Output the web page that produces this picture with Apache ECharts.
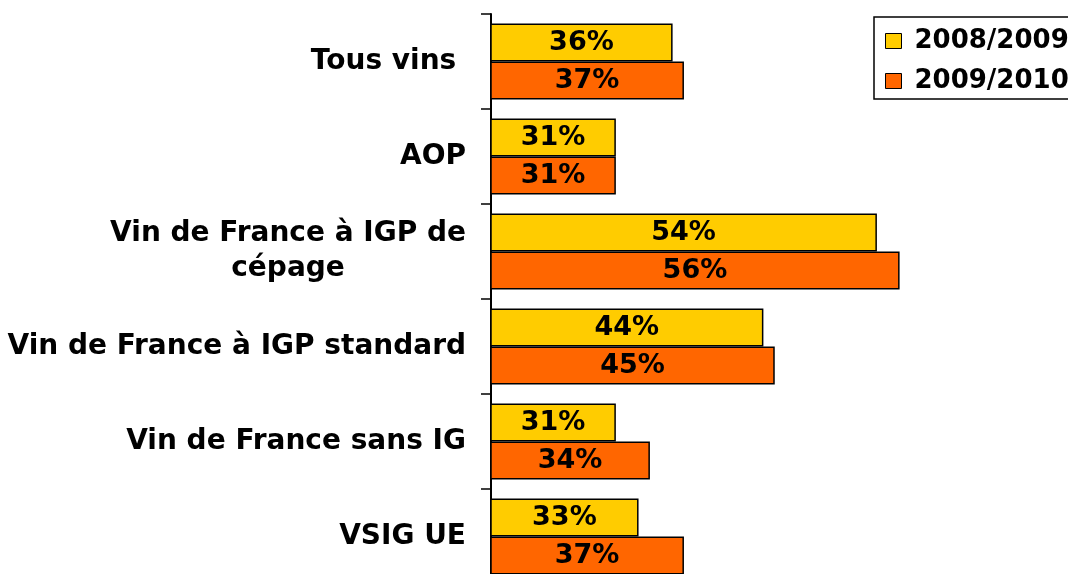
<!DOCTYPE html>
<html>
<head>
<meta charset="utf-8">
<script src="https://cdn.jsdelivr.net/npm/echarts@6/dist/echarts.min.js"></script>
<style>
html, body { margin: 0; padding: 0; background: #ffffff; }
#chartBox { width: 1068px; height: 574px; overflow: hidden; }
</style>
</head>
<body>
<div id="chartBox"></div>
<script>
// categories, top to bottom
let categories = ['Tous vins ', 'AOP', 'Vin de France à IGP de\ncépage', 'Vin de France à IGP standard', 'Vin de France sans IG', 'VSIG UE'];
let seriesNames = ['2008/2009', '2009/2010'];
let values0809 = [36, 31, 54, 44, 31, 33];
let values0910 = [37, 31, 56, 45, 34, 37];

let fontName = 'DejaVu Sans';

let chartBox = echarts.init(document.getElementById('chartBox'));

function barSeries(name, data, color) {
    return {
        type: 'bar',
        name: name,
        data: data,
        barGap: 0,
        barCategoryGap: '20%',
        itemStyle: {color: color, borderColor: '#000000', borderWidth: 1.5},
        label: {
            show: true, position: 'inside', formatter: '{c}%',
            color: '#000000', fontFamily: fontName, fontWeight: 'bold', fontSize: 27
        }
    };
}

let chartBoxOption = {
    animation: false,
    backgroundColor: '#ffffff',
    // plot runs past the bottom edge of the picture, as in the original
    grid: {left: 491, width: 567.5, top: 14, height: 570, containLabel: false, outerBoundsMode: 'none'},
    legend: {
        orient: 'vertical', left: 874, top: 17,
        padding: [11, 60, 5, 11],
        itemGap: 14, itemWidth: 16, itemHeight: 15,
        borderColor: '#000000', borderWidth: 1.5,
        icon: 'rect',
        itemStyle: {borderColor: '#000000', borderWidth: 1},
        textStyle: {color: '#000000', fontFamily: fontName, fontWeight: 'bold', fontSize: 26, lineHeight: 26, padding: [0, 0, 0, 8]},
        data: seriesNames
    },
    xAxis: {
        type: 'value', min: 20, max: 70,
        show: false,
        splitLine: {show: false}
    },
    yAxis: {
        type: 'category', inverse: true,
        data: categories,
        axisLine: {show: true, lineStyle: {color: '#000000', width: 2}},
        axisTick: {show: true, length: 10, lineStyle: {color: '#000000', width: 1.5}},
        axisLabel: {
            margin: 25, color: '#000000', fontFamily: fontName, fontWeight: 'bold', fontSize: 28,
            formatter: function (v) {
                return v.split('\n').map(function (s) { return '{c|' + s + '}'; }).join('\n');
            },
            rich: {
                c: {align: 'center', fontFamily: fontName, fontWeight: 'bold', fontSize: 28, lineHeight: 35, color: '#000000'}
            }
        }
    },
    series: [
        barSeries(seriesNames[0], values0809, '#FFCC00'),
        barSeries(seriesNames[1], values0910, '#FF6600')
    ]
};

chartBox.setOption(chartBoxOption, true);
</script>
</body>
</html>
